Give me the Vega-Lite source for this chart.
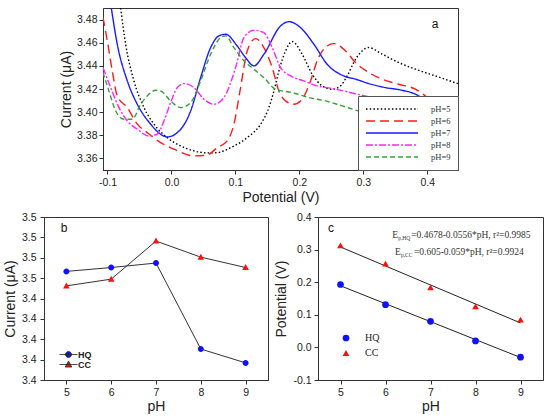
{
  "$schema": "https://vega.github.io/schema/vega-lite/v6.json",
  "background": "white",
  "padding": {"left": 2, "top": 7, "right": 0, "bottom": 0},
  "config": {
    "font": "Liberation Sans",
    "view": {"stroke": "#333", "strokeWidth": 1},
    "axis": {
      "grid": false,
      "labelFont": "Liberation Sans",
      "titleFont": "Liberation Sans",
      "labelFontSize": 10.5,
      "titleFontSize": 14,
      "titleFontWeight": "normal",
      "labelColor": "#222",
      "titleColor": "#222",
      "tickColor": "#333",
      "domainColor": "#333",
      "tickSize": 4,
      "labelPadding": 3,
      "titlePadding": 4,
      "labelFlush": false,
      "labelOverlap": false
    }
  },
  "datasets": {
    "curves": [
      {"s": "pH=5", "V": -0.0794, "I": 3.49}, {"s": "pH=5", "V": -0.0716, "I": 3.4587}, {"s": "pH=5", "V": -0.0586, "I": 3.427},
      {"s": "pH=5", "V": -0.0429, "I": 3.4039}, {"s": "pH=5", "V": -0.0273, "I": 3.3896}, {"s": "pH=5", "V": -0.0066, "I": 3.378},
      {"s": "pH=5", "V": 0.0144, "I": 3.3708}, {"s": "pH=5", "V": 0.0352, "I": 3.3665}, {"s": "pH=5", "V": 0.0559, "I": 3.3648},
      {"s": "pH=5", "V": 0.0716, "I": 3.365}, {"s": "pH=5", "V": 0.0925, "I": 3.3693}, {"s": "pH=5", "V": 0.1184, "I": 3.378},
      {"s": "pH=5", "V": 0.1394, "I": 3.3896}, {"s": "pH=5", "V": 0.1523, "I": 3.4039}, {"s": "pH=5", "V": 0.1602, "I": 3.4183},
      {"s": "pH=5", "V": 0.168, "I": 3.4356}, {"s": "pH=5", "V": 0.1784, "I": 3.4529}, {"s": "pH=5", "V": 0.1888, "I": 3.461},
      {"s": "pH=5", "V": 0.2044, "I": 3.45}, {"s": "pH=5", "V": 0.22, "I": 3.4328}, {"s": "pH=5", "V": 0.2356, "I": 3.4227},
      {"s": "pH=5", "V": 0.2513, "I": 3.4198}, {"s": "pH=5", "V": 0.2644, "I": 3.4227}, {"s": "pH=5", "V": 0.2747, "I": 3.4313},
      {"s": "pH=5", "V": 0.2878, "I": 3.4457}, {"s": "pH=5", "V": 0.2981, "I": 3.4529}, {"s": "pH=5", "V": 0.3086, "I": 3.4558},
      {"s": "pH=5", "V": 0.3294, "I": 3.4501}, {"s": "pH=5", "V": 0.3555, "I": 3.4428}, {"s": "pH=5", "V": 0.3816, "I": 3.4371},
      {"s": "pH=5", "V": 0.4128, "I": 3.4313}, {"s": "pH=5", "V": 0.448, "I": 3.4246},
      {"s": "pH=6", "V": -0.107, "I": 3.482}, {"s": "pH=6", "V": -0.1003, "I": 3.4616}, {"s": "pH=6", "V": -0.0925, "I": 3.4356},
      {"s": "pH=6", "V": -0.0847, "I": 3.414}, {"s": "pH=6", "V": -0.069, "I": 3.4039}, {"s": "pH=6", "V": -0.0534, "I": 3.3896},
      {"s": "pH=6", "V": -0.0378, "I": 3.3823}, {"s": "pH=6", "V": -0.0169, "I": 3.3737}, {"s": "pH=6", "V": 0.0039, "I": 3.368},
      {"s": "pH=6", "V": 0.0352, "I": 3.3622}, {"s": "pH=6", "V": 0.0559, "I": 3.363}, {"s": "pH=6", "V": 0.0716, "I": 3.3693},
      {"s": "pH=6", "V": 0.0872, "I": 3.3751}, {"s": "pH=6", "V": 0.0977, "I": 3.3896}, {"s": "pH=6", "V": 0.1081, "I": 3.4212},
      {"s": "pH=6", "V": 0.1184, "I": 3.4529}, {"s": "pH=6", "V": 0.1316, "I": 3.4635}, {"s": "pH=6", "V": 0.1445, "I": 3.4558},
      {"s": "pH=6", "V": 0.1575, "I": 3.4385}, {"s": "pH=6", "V": 0.168, "I": 3.4183}, {"s": "pH=6", "V": 0.1784, "I": 3.4097},
      {"s": "pH=6", "V": 0.1914, "I": 3.4068}, {"s": "pH=6", "V": 0.2044, "I": 3.4112}, {"s": "pH=6", "V": 0.2175, "I": 3.427},
      {"s": "pH=6", "V": 0.2278, "I": 3.4443}, {"s": "pH=6", "V": 0.2434, "I": 3.4572}, {"s": "pH=6", "V": 0.2539, "I": 3.4592},
      {"s": "pH=6", "V": 0.2722, "I": 3.4529}, {"s": "pH=6", "V": 0.2878, "I": 3.4428}, {"s": "pH=6", "V": 0.3086, "I": 3.4342},
      {"s": "pH=6", "V": 0.3294, "I": 3.4285}, {"s": "pH=6", "V": 0.3555, "I": 3.4241}, {"s": "pH=6", "V": 0.3816, "I": 3.4198},
      {"s": "pH=6", "V": 0.3972, "I": 3.414},
      {"s": "pH=7", "V": -0.094, "I": 3.49}, {"s": "pH=7", "V": -0.0847, "I": 3.4587}, {"s": "pH=7", "V": -0.069, "I": 3.427},
      {"s": "pH=7", "V": -0.0534, "I": 3.4068}, {"s": "pH=7", "V": -0.0325, "I": 3.3896}, {"s": "pH=7", "V": -0.0169, "I": 3.3809},
      {"s": "pH=7", "V": -0.0066, "I": 3.3786}, {"s": "pH=7", "V": 0.0144, "I": 3.3852}, {"s": "pH=7", "V": 0.03, "I": 3.401},
      {"s": "pH=7", "V": 0.0456, "I": 3.4298}, {"s": "pH=7", "V": 0.0613, "I": 3.4558}, {"s": "pH=7", "V": 0.0742, "I": 3.4659},
      {"s": "pH=7", "V": 0.0847, "I": 3.4673}, {"s": "pH=7", "V": 0.1028, "I": 3.4572}, {"s": "pH=7", "V": 0.1159, "I": 3.4471},
      {"s": "pH=7", "V": 0.129, "I": 3.44}, {"s": "pH=7", "V": 0.1445, "I": 3.45}, {"s": "pH=7", "V": 0.1706, "I": 3.4745},
      {"s": "pH=7", "V": 0.1836, "I": 3.4782}, {"s": "pH=7", "V": 0.2019, "I": 3.473}, {"s": "pH=7", "V": 0.2227, "I": 3.4587},
      {"s": "pH=7", "V": 0.2434, "I": 3.4414}, {"s": "pH=7", "V": 0.2695, "I": 3.4313}, {"s": "pH=7", "V": 0.2878, "I": 3.4285},
      {"s": "pH=7", "V": 0.3086, "I": 3.4247}, {"s": "pH=7", "V": 0.3347, "I": 3.4212}, {"s": "pH=7", "V": 0.3606, "I": 3.4189},
      {"s": "pH=7", "V": 0.3816, "I": 3.4155}, {"s": "pH=7", "V": 0.3945, "I": 3.4114},
      {"s": "pH=8", "V": -0.107, "I": 3.4385}, {"s": "pH=8", "V": -0.095, "I": 3.4212}, {"s": "pH=8", "V": -0.082, "I": 3.4039},
      {"s": "pH=8", "V": -0.069, "I": 3.3924}, {"s": "pH=8", "V": -0.0534, "I": 3.3852}, {"s": "pH=8", "V": -0.0352, "I": 3.3794},
      {"s": "pH=8", "V": -0.0222, "I": 3.3809}, {"s": "pH=8", "V": -0.0117, "I": 3.3924}, {"s": "pH=8", "V": -0.0013, "I": 3.4082},
      {"s": "pH=8", "V": 0.0091, "I": 3.4212}, {"s": "pH=8", "V": 0.0195, "I": 3.4247}, {"s": "pH=8", "V": 0.0352, "I": 3.4212},
      {"s": "pH=8", "V": 0.0508, "I": 3.4112}, {"s": "pH=8", "V": 0.0664, "I": 3.4068}, {"s": "pH=8", "V": 0.082, "I": 3.4126},
      {"s": "pH=8", "V": 0.1003, "I": 3.4385}, {"s": "pH=8", "V": 0.1133, "I": 3.4644}, {"s": "pH=8", "V": 0.1289, "I": 3.4708},
      {"s": "pH=8", "V": 0.1445, "I": 3.4687}, {"s": "pH=8", "V": 0.1575, "I": 3.4558}, {"s": "pH=8", "V": 0.1706, "I": 3.4385},
      {"s": "pH=8", "V": 0.1863, "I": 3.4313}, {"s": "pH=8", "V": 0.207, "I": 3.427}, {"s": "pH=8", "V": 0.2278, "I": 3.4227},
      {"s": "pH=8", "V": 0.2488, "I": 3.4207}, {"s": "pH=8", "V": 0.2695, "I": 3.4183}, {"s": "pH=8", "V": 0.2903, "I": 3.4155},
      {"s": "pH=8", "V": 0.3164, "I": 3.4123}, {"s": "pH=8", "V": 0.335, "I": 3.41},
      {"s": "pH=9", "V": -0.107, "I": 3.4342}, {"s": "pH=9", "V": -0.0977, "I": 3.4183}, {"s": "pH=9", "V": -0.0872, "I": 3.401},
      {"s": "pH=9", "V": -0.0742, "I": 3.3939}, {"s": "pH=9", "V": -0.0613, "I": 3.3939}, {"s": "pH=9", "V": -0.0481, "I": 3.4068},
      {"s": "pH=9", "V": -0.0378, "I": 3.414}, {"s": "pH=9", "V": -0.0247, "I": 3.4189}, {"s": "pH=9", "V": -0.0169, "I": 3.4183},
      {"s": "pH=9", "V": -0.0013, "I": 3.4097}, {"s": "pH=9", "V": 0.0144, "I": 3.4039}, {"s": "pH=9", "V": 0.03, "I": 3.4082},
      {"s": "pH=9", "V": 0.0456, "I": 3.427}, {"s": "pH=9", "V": 0.0613, "I": 3.45}, {"s": "pH=9", "V": 0.0769, "I": 3.4644},
      {"s": "pH=9", "V": 0.0847, "I": 3.4659}, {"s": "pH=9", "V": 0.0977, "I": 3.4558}, {"s": "pH=9", "V": 0.1133, "I": 3.4443},
      {"s": "pH=9", "V": 0.1289, "I": 3.4371}, {"s": "pH=9", "V": 0.1445, "I": 3.4298}, {"s": "pH=9", "V": 0.1628, "I": 3.4198},
      {"s": "pH=9", "V": 0.1888, "I": 3.4169}, {"s": "pH=9", "V": 0.2148, "I": 3.4126}, {"s": "pH=9", "V": 0.2409, "I": 3.4097},
      {"s": "pH=9", "V": 0.2669, "I": 3.4054}, {"s": "pH=9", "V": 0.293, "I": 3.401}, {"s": "pH=9", "V": 0.324, "I": 3.3976}
    ],
    "peaks": [
      {"s": "HQ", "pH": 5, "cur": 3.4533}, {"s": "HQ", "pH": 6, "cur": 3.4552}, {"s": "HQ", "pH": 7, "cur": 3.4574},
      {"s": "HQ", "pH": 8, "cur": 3.4152}, {"s": "HQ", "pH": 9, "cur": 3.4084},
      {"s": "CC", "pH": 5, "cur": 3.4462}, {"s": "CC", "pH": 6, "cur": 3.4495}, {"s": "CC", "pH": 7, "cur": 3.4682},
      {"s": "CC", "pH": 8, "cur": 3.4603}, {"s": "CC", "pH": 9, "cur": 3.4552}
    ],
    "potentials": [
      {"s": "HQ", "pH": 5, "pot": 0.193}, {"s": "HQ", "pH": 6, "pot": 0.131}, {"s": "HQ", "pH": 7, "pot": 0.08},
      {"s": "HQ", "pH": 8, "pot": 0.02}, {"s": "HQ", "pH": 9, "pot": -0.03},
      {"s": "CC", "pH": 5, "pot": 0.313}, {"s": "CC", "pH": 6, "pot": 0.257}, {"s": "CC", "pH": 7, "pot": 0.184},
      {"s": "CC", "pH": 8, "pot": 0.126}, {"s": "CC", "pH": 9, "pot": 0.085}
    ],
    "fits": [
      {"s": "HQ", "pH": 5, "pot": 0.189}, {"s": "HQ", "pH": 9, "pot": -0.031},
      {"s": "CC", "pH": 5, "pot": 0.308}, {"s": "CC", "pH": 9, "pot": 0.075}
    ],
    "equations": [
      {"pH": 6.149, "pot": 0.3445, "sub": "p,HQ", "rest": "=0.4678-0.0556*pH, r²=0.9985"},
      {"pH": 6.209, "pot": 0.292, "sub": "p,CC", "rest": "=0.605-0.059*pH,  r²=0.9924"}
    ]
  },
  "resolve": {"scale": {"color": "independent", "shape": "independent", "strokeDash": "independent"}, "legend": {"color": "independent", "shape": "independent", "strokeDash": "independent"}},
  "spacing": 6,
  "vconcat": [
    {
      "hconcat": [
        {"width": 19, "height": 162, "data": {"values": []}, "mark": "point", "view": {"stroke": "transparent"}},
        {
          "width": 355,
          "height": 162,
          "layer": [
            {
              "data": {"name": "curves"},
              "mark": {"type": "line", "interpolate": "monotone", "strokeWidth": 1.4, "clip": true},
              "encoding": {
                "x": {"field": "V", "type": "quantitative", "scale": {"domain": [-0.107, 0.448], "nice": false, "zero": false},
                      "axis": {"title": "Potential (V)", "values": [-0.1, 0, 0.1, 0.2, 0.3, 0.4], "tickCount": 20, "labelExpr": "replace(format(datum.value, '.1f'), '\u2212', '-')", "titlePadding": 3}},
                "y": {"field": "I", "type": "quantitative", "scale": {"domain": [3.35, 3.49], "nice": false, "zero": false},
                      "axis": {"title": "Current (μA)", "values": [3.36, 3.38, 3.4, 3.42, 3.44, 3.46, 3.48], "tickCount": 20, "labelExpr": "format(datum.value, '.2f')", "labelPadding": 2, "titlePadding": 3}},
                "color": {"field": "s", "type": "nominal",
                          "scale": {"domain": ["pH=5", "pH=6", "pH=7", "pH=8", "pH=9"], "range": ["#000000", "#ff1a1a", "#1a1aff", "#ff22ff", "#3a9e3a"]},
                          "legend": {"title": null, "orient": "bottom-right", "offset": 0, "fillColor": "white", "strokeColor": "#555", "padding": 7, "symbolType": "stroke", "symbolSize": 2704, "symbolStrokeWidth": 1.5, "clipHeight": 12, "rowPadding": 0, "labelFont": "Liberation Serif", "labelFontSize": 8.5, "labelOffset": 12, "labelColor": "#333"}},
                "strokeDash": {"field": "s", "type": "nominal",
                               "scale": {"domain": ["pH=5", "pH=6", "pH=7", "pH=8", "pH=9"], "range": [[1.5, 2.2], [9, 5], [1, 0], [7, 2, 2, 2], [5, 3]]},
                               "legend": {"title": null, "orient": "bottom-right", "offset": 0, "fillColor": "white", "strokeColor": "#555", "padding": 7, "symbolType": "stroke", "symbolSize": 2704, "symbolStrokeWidth": 1.5, "clipHeight": 12, "rowPadding": 0, "labelFont": "Liberation Serif", "labelFontSize": 8.5, "labelOffset": 12, "labelColor": "#333"}}
              }
            },
            {
              "data": {"values": [{"V": 0.412, "I": 3.476, "t": "a"}]},
              "mark": {"type": "text", "font": "Liberation Sans", "fontSize": 12, "color": "#111"},
              "encoding": {"x": {"field": "V", "type": "quantitative"}, "y": {"field": "I", "type": "quantitative"}, "text": {"field": "t"}}
            }
          ]
        }
      ],
      "spacing": 40,
      "bounds": "flush",
      "resolve": {"scale": {"color": "independent", "shape": "independent", "strokeDash": "independent"}, "legend": {"color": "independent", "shape": "independent", "strokeDash": "independent"}}
    },
    {
      "hconcat": [
        {
          "width": 224,
          "height": 163,
          "encoding": {
            "x": {"field": "pH", "type": "quantitative", "scale": {"domain": [4.5, 9.5], "nice": false, "zero": false},
                  "axis": {"title": "pH", "values": [5, 6, 7, 8, 9], "format": "d", "titlePadding": 2}},
            "y": {"field": "cur", "type": "quantitative", "scale": {"domain": [3.4, 3.48], "nice": false, "zero": false},
                  "axis": {"title": "Current (μA)", "values": [3.4, 3.41, 3.42, 3.43, 3.44, 3.45, 3.46, 3.47, 3.48], "tickCount": 20, "labelExpr": "format(datum.value + 0.000001, '.1f')", "labelPadding": 4, "titlePadding": 4}}
          },
          "layer": [
            {"data": {"name": "peaks"}, "mark": {"type": "line", "color": "#333", "strokeWidth": 1}, "encoding": {"detail": {"field": "s"}}},
            {
              "data": {"name": "peaks"},
              "mark": {"type": "point", "filled": true, "opacity": 1, "size": 36},
              "encoding": {
                "color": {"field": "s", "type": "nominal", "scale": {"domain": ["HQ", "CC"], "range": ["#1010ff", "#ff1010"]},
                          "legend": {"title": null, "orient": "bottom-left", "offset": 5, "padding": 5, "symbolOffset": 10, "clipHeight": 9, "rowPadding": 0, "symbolSize": 36, "symbolStrokeColor": "#222", "symbolStrokeWidth": 0.8, "labelFont": "Liberation Sans", "labelFontSize": 9, "labelFontWeight": "bold", "labelOffset": 5, "labelColor": "#222"}},
                "shape": {"field": "s", "type": "nominal",
                          "scale": {"domain": ["HQ", "CC"], "range": ["M-3,0H3M-1,0A1,1 0 1,0 1,0A1,1 0 1,0 -1,0Z", "M-3,0H3M0,-1.15L1.1,0.85L-1.1,0.85Z"]},
                          "legend": {"title": null, "orient": "bottom-left", "offset": 5, "padding": 5, "symbolOffset": 10, "clipHeight": 9, "rowPadding": 0, "symbolSize": 36, "symbolStrokeColor": "#222", "symbolStrokeWidth": 0.8, "labelFont": "Liberation Sans", "labelFontSize": 9, "labelFontWeight": "bold", "labelOffset": 5, "labelColor": "#222"}}
              }
            },
            {
              "data": {"values": [{"pH": 4.95, "cur": 3.4744, "t": "b"}]},
              "mark": {"type": "text", "font": "Liberation Sans", "fontSize": 12, "color": "#111"},
              "encoding": {"text": {"field": "t"}}
            }
          ]
        },
        {
          "width": 225,
          "height": 163,
          "encoding": {
            "x": {"field": "pH", "type": "quantitative", "scale": {"domain": [4.5, 9.5], "nice": false, "zero": false},
                  "axis": {"title": "pH", "values": [5, 6, 7, 8, 9], "format": "d", "titlePadding": 2}},
            "y": {"field": "pot", "type": "quantitative", "scale": {"domain": [-0.1, 0.4], "nice": false, "zero": false},
                  "axis": {"title": "Potential (V)", "values": [-0.1, 0, 0.1, 0.2, 0.3, 0.4], "tickCount": 20, "labelExpr": "replace(format(datum.value, '.1f'), '\u2212', '-')", "labelPadding": 3, "titlePadding": 4}}
          },
          "layer": [
            {"data": {"name": "fits"}, "mark": {"type": "line", "color": "#222", "strokeWidth": 1}, "encoding": {"detail": {"field": "s"}}},
            {
              "data": {"name": "potentials"},
              "mark": {"type": "point", "filled": true, "opacity": 1, "size": 45},
              "encoding": {
                "color": {"field": "s", "type": "nominal", "scale": {"domain": ["HQ", "CC"], "range": ["#1010ff", "#ff1010"]},
                          "legend": {"title": null, "orient": "bottom-left", "offset": 17, "padding": 5, "symbolOffset": 1, "rowPadding": 5, "symbolSize": 45, "labelFont": "Liberation Serif", "labelFontSize": 10, "labelOffset": 14, "labelColor": "#222"}},
                "shape": {"field": "s", "type": "nominal", "scale": {"domain": ["HQ", "CC"], "range": ["circle", "triangle-up"]},
                          "legend": {"title": null, "orient": "bottom-left", "offset": 17, "padding": 5, "symbolOffset": 1, "rowPadding": 5, "symbolSize": 45, "labelFont": "Liberation Serif", "labelFontSize": 10, "labelOffset": 14, "labelColor": "#222"}}
              }
            },
            {
              "data": {"values": [{"pH": 4.79, "pot": 0.365, "t": "c"}]},
              "mark": {"type": "text", "font": "Liberation Sans", "fontSize": 12, "color": "#111"},
              "encoding": {"text": {"field": "t"}}
            },
            {
              "data": {"name": "equations"},
              "mark": {"type": "text", "align": "left", "font": "Liberation Serif", "fontSize": 9.5, "color": "#333"},
              "encoding": {"text": {"value": "E"}}
            },
            {
              "data": {"name": "equations"},
              "mark": {"type": "text", "align": "left", "font": "Liberation Serif", "fontSize": 5.5, "dx": 6, "dy": 3, "color": "#333"},
              "encoding": {"text": {"field": "sub"}}
            },
            {
              "data": {"name": "equations"},
              "mark": {"type": "text", "align": "left", "font": "Liberation Serif", "fontSize": 9.5, "dx": 19, "color": "#333"},
              "encoding": {"text": {"field": "rest"}}
            }
          ]
        }
      ],
      "spacing": 50,
      "bounds": "flush",
      "resolve": {"scale": {"color": "independent", "shape": "independent", "strokeDash": "independent"}, "legend": {"color": "independent", "shape": "independent", "strokeDash": "independent"}}
    }
  ]
}
